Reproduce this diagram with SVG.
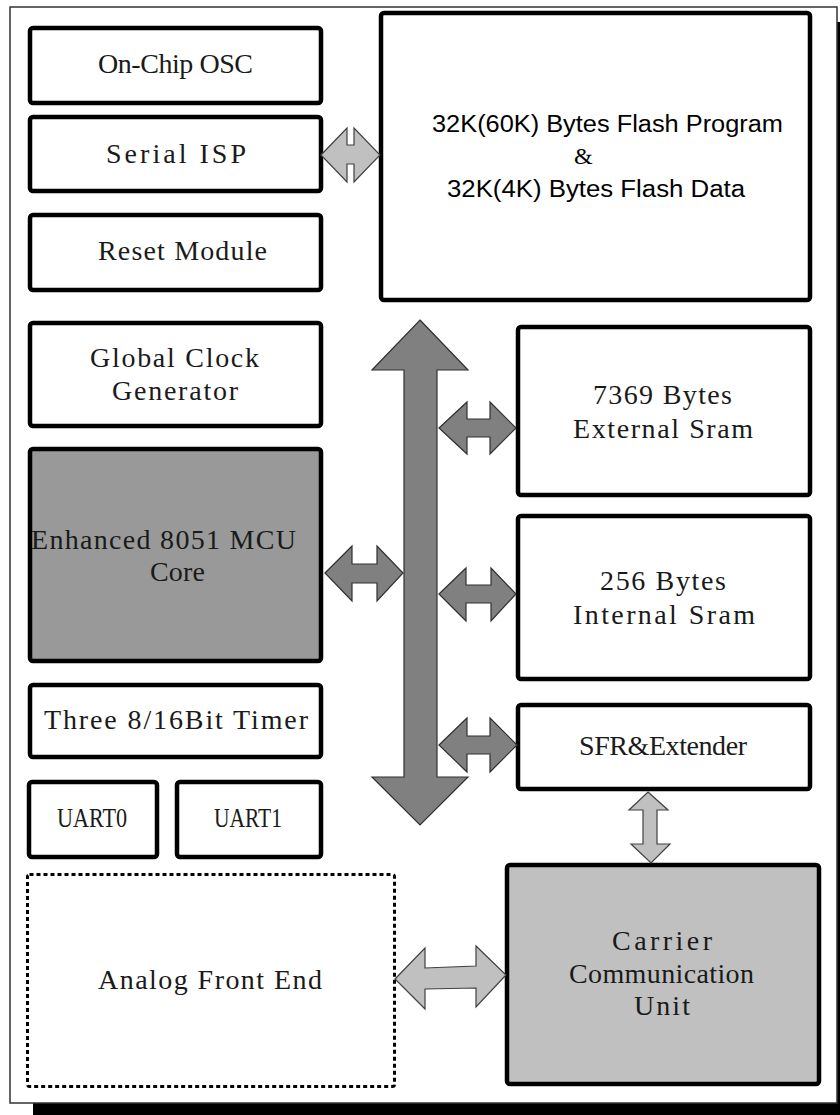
<svg xmlns="http://www.w3.org/2000/svg" width="840" height="1115" viewBox="0 0 840 1115">
<style>
.box{fill:#ffffff;stroke:#000000;stroke-width:4.5;}
.lbl{font-family:"Liberation Serif","Noto Sans CJK SC",serif;font-size:28px;fill:#1a1a1a;}
.sans{font-family:"Liberation Sans",Arial,sans-serif;font-size:23px;fill:#000000;}
.dark{fill:#808080;stroke:#303030;stroke-width:1.2;stroke-linejoin:miter;}
.light{fill:#c0c0c0;stroke:#404040;stroke-width:1.2;stroke-linejoin:miter;}
</style>
<rect x="0" y="0" width="840" height="1115" fill="#ffffff"/>
<rect id="shadow" x="33" y="22" width="830" height="1100" fill="#000000"/>
<rect id="frame" x="10" y="7" width="827" height="1096" fill="#ffffff" stroke="#333333" stroke-width="1.5"/>

<g id="on-chip-osc"><rect class="box" x="30" y="28" width="291" height="75" rx="3"/><text class="lbl" x="98" y="73" textLength="155" lengthAdjust="spacing">On-Chip OSC</text></g>
<g id="serial-isp"><rect class="box" x="30" y="117" width="291" height="74" rx="3"/><text class="lbl" x="106" y="163" textLength="140" lengthAdjust="spacing">Serial ISP</text></g>
<g id="reset-module"><rect class="box" x="30" y="215" width="291" height="75" rx="3"/><text class="lbl" x="98" y="260" textLength="169" lengthAdjust="spacing">Reset Module</text></g>
<g id="flash"><rect class="box" x="381" y="13" width="429" height="287" rx="3"/>
<text class="sans" x="432" y="132" textLength="351" lengthAdjust="spacingAndGlyphs">32K(60K) Bytes Flash Program</text>
<text x="574" y="164" font-family="Liberation Serif, serif" font-size="24" fill="#000">&amp;</text>
<text class="sans" x="447" y="197" textLength="298" lengthAdjust="spacingAndGlyphs">32K(4K) Bytes Flash Data</text></g>
<g id="global-clock"><rect class="box" x="30" y="323" width="291" height="103" rx="3"/><text class="lbl" x="90" y="367" textLength="169" lengthAdjust="spacing">Global Clock</text><text class="lbl" x="112" y="400" textLength="126" lengthAdjust="spacing">Generator</text></g>
<g id="mcu-core"><rect class="box" x="30" y="449" width="291" height="212" rx="3" style="fill:#999999"/><text class="lbl" x="31" y="549" textLength="265" lengthAdjust="spacing">Enhanced 8051 MCU</text><text class="lbl" x="150" y="581" textLength="55" lengthAdjust="spacing">Core</text></g>
<g id="timer"><rect class="box" x="30" y="685" width="291" height="72" rx="3"/><text class="lbl" x="44" y="729" textLength="264" lengthAdjust="spacing">Three 8/16Bit Timer</text></g>
<g id="uart0"><rect class="box" x="29" y="782" width="128" height="75" rx="3"/><text class="lbl" x="57" y="827" textLength="70" lengthAdjust="spacingAndGlyphs">UART0</text></g>
<g id="uart1"><rect class="box" x="177" y="782" width="144" height="75" rx="3"/><text class="lbl" x="214" y="827" textLength="68" lengthAdjust="spacingAndGlyphs">UART1</text></g>
<g id="afe"><rect x="27.5" y="874.5" width="367" height="212" rx="2" fill="none" stroke="#000" stroke-width="3" stroke-dasharray="4 3"/><text class="lbl" x="98" y="989" textLength="224" lengthAdjust="spacing">Analog Front End</text></g>
<g id="ext-sram"><rect class="box" x="518" y="327" width="292" height="168" rx="3"/><text class="lbl" x="593" y="404" textLength="139" lengthAdjust="spacing">7369 Bytes</text><text class="lbl" x="573" y="438" textLength="180" lengthAdjust="spacing">External Sram</text></g>
<g id="int-sram"><rect class="box" x="518" y="516" width="292" height="163" rx="3"/><text class="lbl" x="600" y="590" textLength="126" lengthAdjust="spacing">256 Bytes</text><text class="lbl" x="573" y="624" textLength="182" lengthAdjust="spacing">Internal Sram</text></g>
<g id="sfr"><rect class="box" x="518" y="705" width="292" height="84" rx="3"/><text class="lbl" x="579" y="755" textLength="168" lengthAdjust="spacing">SFR&amp;Extender</text></g>
<g id="ccu"><rect class="box" x="507" y="865" width="312" height="219" rx="3" style="fill:#c0c0c0"/><text class="lbl" x="612" y="950" textLength="100" lengthAdjust="spacing">Carrier</text><text class="lbl" x="569" y="983" textLength="185" lengthAdjust="spacing">Communication</text><text class="lbl" x="634" y="1015" textLength="56" lengthAdjust="spacing">Unit</text></g>

<g id="connectors">
<polygon class="light" points="321,155 347,128 347,145 354,145 354,128 380,155 354,182 354,164 347,164 347,182"/>
<polygon class="dark" points="420,320 468,370 437,370 437,777 468,777 420,825 372,777 404,777 404,370 372,370"/>
<polygon class="dark" points="439,428 467,402 467,419 490,419 490,402 516,428 490,454 490,437 467,437 467,454"/>
<polygon class="dark" points="325,573 352,546 352,564 377,564 377,546 403,573 377,601 377,583 352,583 352,601"/>
<polygon class="dark" points="439,594 466,568 466,585 491,585 491,568 516,594 491,621 491,603 466,603 466,621"/>
<polygon class="dark" points="439,745 467,718 467,736 490,736 490,718 517,745 490,772 490,754 467,754 467,772"/>
<polygon class="light" points="648,792 668,810 657,810 657,844 670,844 651,863 631,844 643,844 643,810 629,810"/>
<polygon class="light" points="395,979 425,948 425,968 476,966 476,946 506,975 476,1007 476,988 425,989 425,1009"/>
</g>
</svg>
